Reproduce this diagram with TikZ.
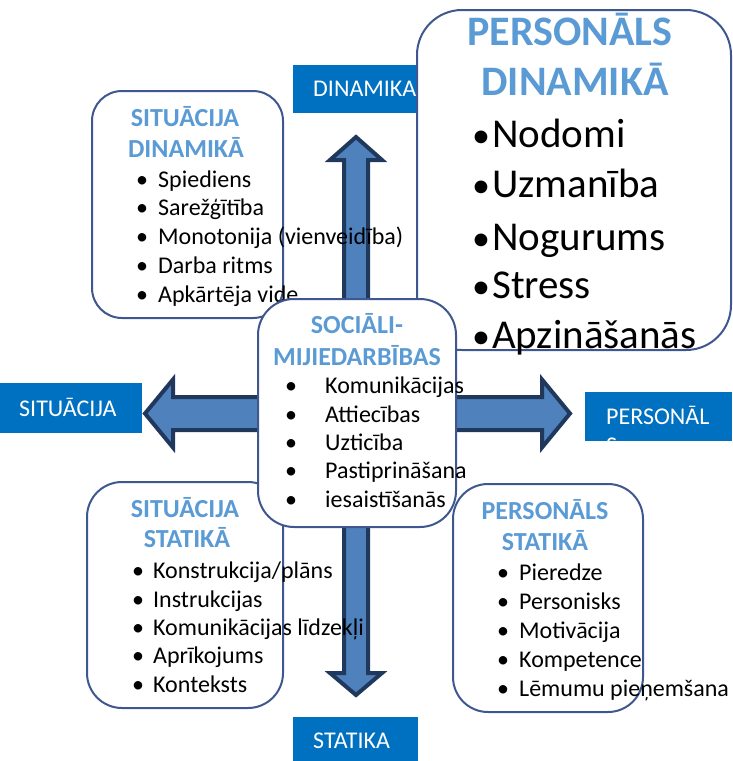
\documentclass[tikz,border=0pt]{standalone}
\usepackage{fontspec}
\setmainfont{Carlito}
\definecolor{boxline}{RGB}{63,87,143}
\definecolor{titleblue}{RGB}{91,155,213}
\definecolor{labelblue}{RGB}{0,112,192}
\definecolor{arrowfill}{RGB}{79,129,189}
\definecolor{arrowline}{RGB}{31,56,92}
\tikzset{
  rbox/.style={draw=boxline, line width=2pt, fill=white, inner sep=0pt},
  lbl/.style={fill=labelblue, draw=none, inner sep=0pt},
  lbltext/.style={anchor=base west, inner sep=0pt, text=white, font=\fontsize{24}{29}\selectfont},
  ttl/.style={anchor=base, inner sep=0pt, text=titleblue, font=\fontsize{26}{31}\selectfont\bfseries},
  bigttl/.style={anchor=base, inner sep=0pt, text=titleblue, font=\fontsize{42}{50}\selectfont\bfseries},
  itm/.style={anchor=base west, inner sep=0pt, font=\fontsize{24}{29}\selectfont},
  bul/.style={anchor=base, inner sep=0pt, font=\fontsize{24}{29}\selectfont},
  bigitm/.style={anchor=base west, inner sep=0pt, font=\fontsize{41}{50}\selectfont},
  bigbul/.style={anchor=base, inner sep=0pt, font=\fontsize{36}{44}\selectfont},
  bigarrow/.style={fill=arrowfill, draw=arrowline, line width=4pt, line join=miter},
}
\begin{document}
\begin{tikzpicture}[x=1pt,y=-1pt]
\useasboundingbox (0,0) rectangle (732,761);

% axis labels
\node[lbl, minimum width=147pt, minimum height=48pt] (ldin) at (366.5,89) {};
\node[lbltext] (ldint) at (313,96) {DINAMIKA};
\node[lbl, minimum width=142pt, minimum height=50pt] (lsit) at (71,408) {};
\node[lbltext] (lsitt) at (19,416) {SITUĀCIJA};
\node[lbl, minimum width=147pt, minimum height=49pt] (lper) at (658.5,416.5) {};
\begin{scope}
  \clip (585,392) rectangle (732,441);
  \node[lbltext] (lpert) at (606,424) {PERSONĀL};
  \node[lbltext] (lpers) at (606,453) {S};
\end{scope}
\node[lbl, minimum width=125pt, minimum height=46pt] (lsta) at (355.5,740) {};
\node[lbltext] (lstat) at (313,748) {STATIKA};

% the cross of double arrows
\coordinate (cc) at (356,413.5);
\draw[bigarrow] (356,137) -- (382,160) -- (368,160) -- (368,673) -- (382,673)
  -- (356,695) -- (330,673) -- (344,673) -- (344,160) -- (330,160) -- cycle;
\draw[bigarrow] (145,413.5) -- (173,379.5) -- (173,397) -- (542,397) -- (542,379.5)
  -- (570,413.5) -- (542,447.5) -- (542,430) -- (173,430) -- (173,447.5) -- cycle;

% situation, dynamic
\node[rbox, rounded corners=30pt, minimum width=191pt, minimum height=227pt] (sd) at (187.5,204.5) {};
\node[ttl] (sd1) at (185,126) {SITUĀCIJA};
\node[ttl] (sd2) at (186,157) {DINAMIKĀ};
\foreach \y/\t [count=\i] in {187/Spiediens, 215/Sarežģītība, 244/Monotonija (vienveidība), 273/Darba ritms, 302/Apkārtēja vide}{
  \node[bul] (sdb\i) at (142,\y) {•};
  \node[itm] (sdi\i) at (158,\y) {\t};
}

% situation, static
\node[rbox, rounded corners=35pt, minimum width=196pt, minimum height=226pt] (ss) at (185,595) {};
\node[ttl] (ss1) at (185,517) {SITUĀCIJA};
\node[ttl] (ss2) at (187,547) {STATIKĀ};
\foreach \y/\t [count=\i] in {578/{Konstrukcija/plāns}, 607/Instrukcijas, 635/Komunikācijas līdzekļi, 663/Aprīkojums, 692/Konteksts}{
  \node[bul] (ssb\i) at (138,\y) {•};
  \node[itm] (ssi\i) at (153,\y) {\t};
}

% personnel, static
\node[rbox, rounded corners=35pt, minimum width=190pt, minimum height=228pt] (ps) at (548,598) {};
\node[ttl] (ps1) at (545,519) {PERSONĀLS};
\node[ttl] (ps2) at (545,550) {STATIKĀ};
\foreach \y/\t [count=\i] in {580/Pieredze, 609/Personisks, 638/Motivācija, 667/Kompetence, 696/Lēmumu pieņemšana}{
  \node[bul] (psb\i) at (503,\y) {•};
  \node[itm] (psi\i) at (519,\y) {\t};
}

% personnel, dynamic
\node[rbox, rounded corners=45pt, minimum width=314pt, minimum height=340pt] (pd) at (574,180) {};
\node[bigttl] (pd1) at (570,45) {PERSONĀLS};
\node[bigttl] (pd2) at (575,95) {DINAMIKĀ};
\foreach \y/\t [count=\i] in {147/Nodomi, 197/Uzmanība, 250/Nogurums, 298/Stress, 348/Apzināšanās}{
  \node[bigbul] (pdb\i) at (481,\y) {•};
  \node[bigitm] (pdi\i) at (492,\y) {\t};
}

% social interactions, in the middle
\node[rbox, rounded corners=36pt, minimum width=198pt, minimum height=228pt] (si) at (357,413) {};
\node[ttl] (si1) at (357,333) {SOCIĀLI-};
\node[ttl] (si2) at (357,365) {MIJIEDARBĪBAS};
\foreach \y/\t [count=\i] in {393/Komunikācijas, 422/Attiecības, 450/Uzticība, 478/Pastiprināšana, 507/iesaistīšanās}{
  \node[bul] (sib\i) at (291,\y) {•};
  \node[itm] (sii\i) at (325,\y) {\t};
}
\end{tikzpicture}
\end{document}
